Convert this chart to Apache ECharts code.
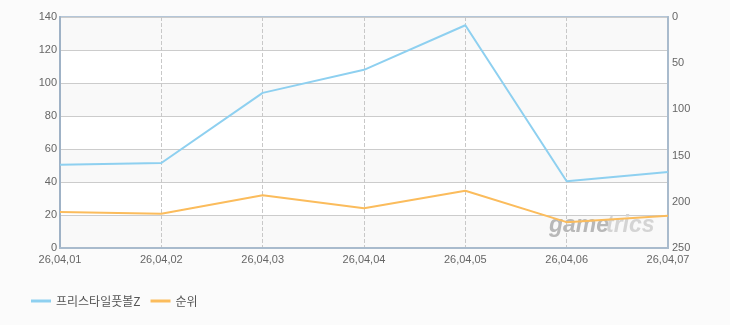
<!DOCTYPE html>
<html><head><meta charset="utf-8">
<script src="https://cdn.jsdelivr.net/npm/echarts@6/dist/echarts.min.js"></script>
<style>html,body{margin:0;padding:0;background:#fbfbfb}#c{width:730px;height:325px}</style>
</head><body><div id="c"></div>
<script>
var categories = ['26,04,01','26,04,02','26,04,03','26,04,04','26,04,05','26,04,06','26,04,07'];
var users = [50.5, 51.5, 94, 108, 135, 40.5, 46];
var rank = [211, 213, 193, 207, 188, 222, 215];
var seriesNames = ['프리스타일풋볼Z', '순위'];

var chart = echarts.init(document.getElementById('c'));
var font = 'Liberation Sans, Arial, sans-serif';
chart.setOption({
  backgroundColor: '#fbfbfb',
  animation: false,
  grid: {left: 60, right: 62, top: 17, bottom: 77, show: true, borderColor: '#b4c6d8', borderWidth: 2, backgroundColor: 'transparent'},
  legend: {
    left: 26, top: 290, itemWidth: 20, itemHeight: 3, itemGap: 10, icon: 'rect',
    textStyle: {color: '#555', fontSize: 12, fontFamily: 'Noto Sans CJK KR, sans-serif'},
    data: seriesNames
  },
  xAxis: {
    type: 'category', data: categories, boundaryGap: false,
    axisLine: {show: true, lineStyle: {color: '#a9bbcd', width: 2}},
    axisTick: {show: false},
    axisLabel: {color: '#666', fontSize: 11, fontFamily: font, margin: 6, interval: 0},
    splitLine: {show: true, lineStyle: {color: '#c8c8c8', type: 'dashed', width: 1}}
  },
  yAxis: [{
    type: 'value', min: 0, max: 140, interval: 20,
    axisLine: {show: true, lineStyle: {color: '#9fb2c6', width: 2}},
    axisTick: {show: false},
    axisLabel: {color: '#666', fontSize: 11, fontFamily: font, margin: 3},
    splitLine: {show: true, lineStyle: {color: '#cccccc', width: 1}},
    splitArea: {show: true, areaStyle: {color: ['#f9f9f9', '#ffffff']}}
  }, {
    type: 'value', min: 0, max: 250, interval: 50, inverse: true, position: 'right',
    axisLine: {show: true, lineStyle: {color: '#a9bbcd', width: 2}},
    axisTick: {show: false},
    axisLabel: {color: '#666', fontSize: 11, fontFamily: font, margin: 4},
    splitLine: {show: false}
  }],
  graphic: [{
    type: 'text', left: 549, top: 214, z: 1, silent: true,
    style: {
      text: 'game', fill: '#b8b8b8', fontSize: 23, fontStyle: 'italic', fontWeight: 'bold',
      fontFamily: 'Liberation Sans, Arial, sans-serif'
    }
  }, {
    type: 'text', left: 606, top: 214, z: 1, silent: true,
    style: {
      text: 'trics', fill: '#d4d4d4', fontSize: 23, fontStyle: 'italic', fontWeight: 'bold',
      fontFamily: 'Liberation Sans, Arial, sans-serif'
    }
  }],
  series: [{
    name: seriesNames[0], type: 'line', data: users, yAxisIndex: 0, z: 3,
    showSymbol: false, symbol: 'none',
    lineStyle: {color: '#8ed0f0', width: 2}, itemStyle: {color: '#8ed0f0'}
  }, {
    name: seriesNames[1], type: 'line', data: rank, yAxisIndex: 1, z: 3,
    showSymbol: false, symbol: 'none',
    lineStyle: {color: '#fbbc5c', width: 2}, itemStyle: {color: '#fbbc5c'}
  }]
});
</script></body></html>
